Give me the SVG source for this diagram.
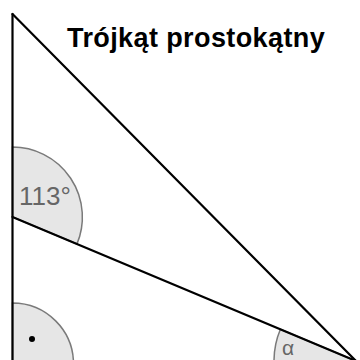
<svg xmlns="http://www.w3.org/2000/svg" width="360" height="360" viewBox="0 0 360 360">
  <style>
    .sector { fill: #e6e6e6; stroke: #7a7a7a; stroke-width: 1.5; }
    .edge { stroke: #000; stroke-width: 2.2; fill: none; stroke-linecap: round; }
    .lbl { font-family: "Liberation Sans", Arial, sans-serif; fill: #666; }
    .title { font-family: "Liberation Sans", Arial, sans-serif; font-weight: bold; fill: #000; }
  </style>
  <rect width="360" height="360" fill="#fff"/>
  <g id="angle-113">
    <path class="sector" d="M12.5,217 L12.5,147 A70,70 0 0 1 77,243.9 Z"/>
    <text class="lbl" x="19" y="205" font-size="26">113°</text>
  </g>
  <g id="angle-right">
    <path class="sector" d="M12.5,364 L12.5,303 A61,61 0 0 1 73.5,364 Z"/>
    <circle cx="32" cy="339" r="3" fill="#000"/>
  </g>
  <g id="angle-alpha">
    <path class="sector" d="M356,361 L280.4,329.3 A82,82 0 0 0 274,361 Z"/>
    <text class="lbl" x="282" y="355" font-size="21">α</text>
  </g>
  <g id="connectors">
    <line class="edge" x1="12.5" y1="14" x2="12.5" y2="370"/>
    <line class="edge" x1="12.5" y1="14" x2="356" y2="361"/>
    <line class="edge" x1="12.5" y1="217" x2="356" y2="361"/>
  </g>
  <g id="title">
    <text class="title" x="67" y="47" font-size="27" letter-spacing="0.4">Trójkąt prostokątny</text>
  </g>
</svg>
